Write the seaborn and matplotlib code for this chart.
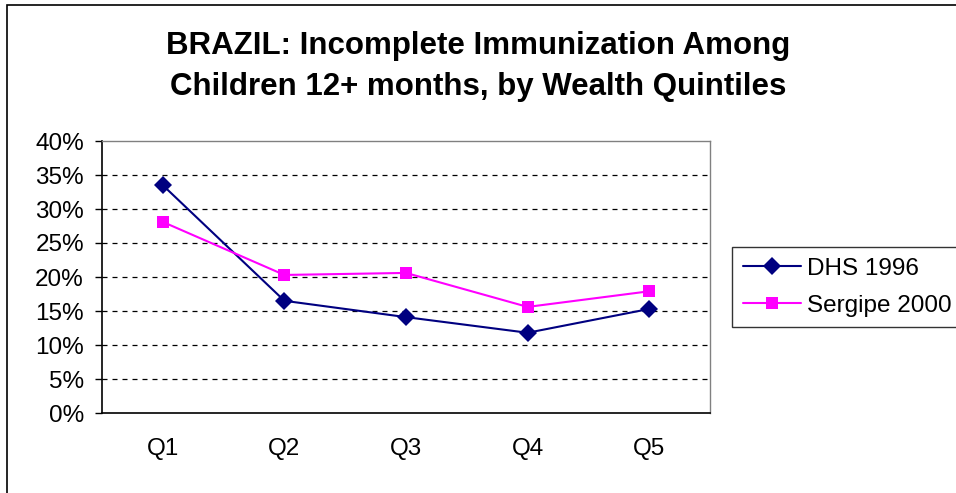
import numpy as np
import pandas as pd
import matplotlib
matplotlib.use("Agg")
import matplotlib.pyplot as plt
import seaborn as sns
from matplotlib.patches import Rectangle

quintiles = ["Q1", "Q2", "Q3", "Q4", "Q5"]
dhs_1996 = [33.5, 16.5, 14.1, 11.8, 15.3]
sergipe_2000 = [28.1, 20.3, 20.6, 15.6, 17.9]
series_names = ["DHS 1996", "Sergipe 2000"]

df = pd.DataFrame({
    "pos": list(range(len(quintiles))) * 2,
    "value": dhs_1996 + sergipe_2000,
    "series": [series_names[0]] * 5 + [series_names[1]] * 5,
})

sns.set_style("white")
plt.rcParams['font.family'] = ['Liberation Sans', 'DejaVu Sans']
plt.rcParams['text.color'] = 'black'
plt.rcParams['xtick.color'] = 'black'
plt.rcParams['ytick.color'] = 'black'
plt.rcParams['axes.labelcolor'] = 'black'

fig = plt.figure(figsize=(9.56, 4.93), dpi=100)
ax = fig.add_axes([102 / 956, 1 - 413 / 493, (710 - 102) / 956, (413 - 141) / 493])

# outer frame of the chart area
fig.patches.append(Rectangle((7 / 956, -0.05), 1.1, 1 - 5 / 493 + 0.05,
                             transform=fig.transFigure, fill=False,
                             edgecolor="black", linewidth=1.2))

sns.lineplot(data=df, x="pos", y="value", hue="series", style="series",
             palette={"DHS 1996": "#000080", "Sergipe 2000": "#FF00FF"},
             markers={"DHS 1996": "D", "Sergipe 2000": "s"},
             dashes=False, markersize=9, markeredgewidth=0, linewidth=1.5,
             ax=ax)

ax.set_xlim(-0.5, 4.5)
ax.set_ylim(0, 40)
ax.set_yticks(np.arange(0, 41, 5))
ax.set_yticklabels([f"{v}%" for v in range(0, 41, 5)], fontsize=17.5)
for v in range(5, 40, 5):
    ax.axhline(v, color="black", linestyle=(0, (4, 4)), linewidth=0.9, zorder=0)

ax.set_xticks(np.arange(-0.5, 5, 1))
ax.set_xticklabels([])
ax.set_xticks(range(5), minor=True)
ax.set_xticklabels(quintiles, minor=True, fontsize=17.5)
ax.tick_params(axis="x", which="major", length=6, width=1, color="black", direction="out")
ax.tick_params(axis="x", which="minor", length=0, pad=18)
ax.tick_params(axis="y", length=5, width=1, color="black", direction="out", left=True, pad=8)
ax.set_xlabel("")
ax.set_ylabel("")

for side in ["left", "bottom"]:
    ax.spines[side].set_color("black")
    ax.spines[side].set_linewidth(1.2)
for side in ["top", "right"]:
    ax.spines[side].set_color("#808080")
    ax.spines[side].set_linewidth(1.0)

leg = ax.legend(loc="upper left", bbox_to_anchor=(732 / 956, 1 - 247 / 493),
                bbox_transform=fig.transFigure, fontsize=17.5, frameon=True,
                fancybox=False, edgecolor="black", handlelength=2.4,
                borderpad=0.45, labelspacing=0.6, handletextpad=0.25,
                borderaxespad=0)
leg.get_frame().set_linewidth(1.0)

fig.text(0.5, 1 - 46 / 493, "BRAZIL: Incomplete Immunization Among",
         ha="center", va="center", fontsize=22.5, fontweight="bold")
fig.text(0.5, 1 - 87 / 493, "Children 12+ months, by Wealth Quintiles",
         ha="center", va="center", fontsize=22.5, fontweight="bold")

fig.savefig("out.png", dpi=100)
